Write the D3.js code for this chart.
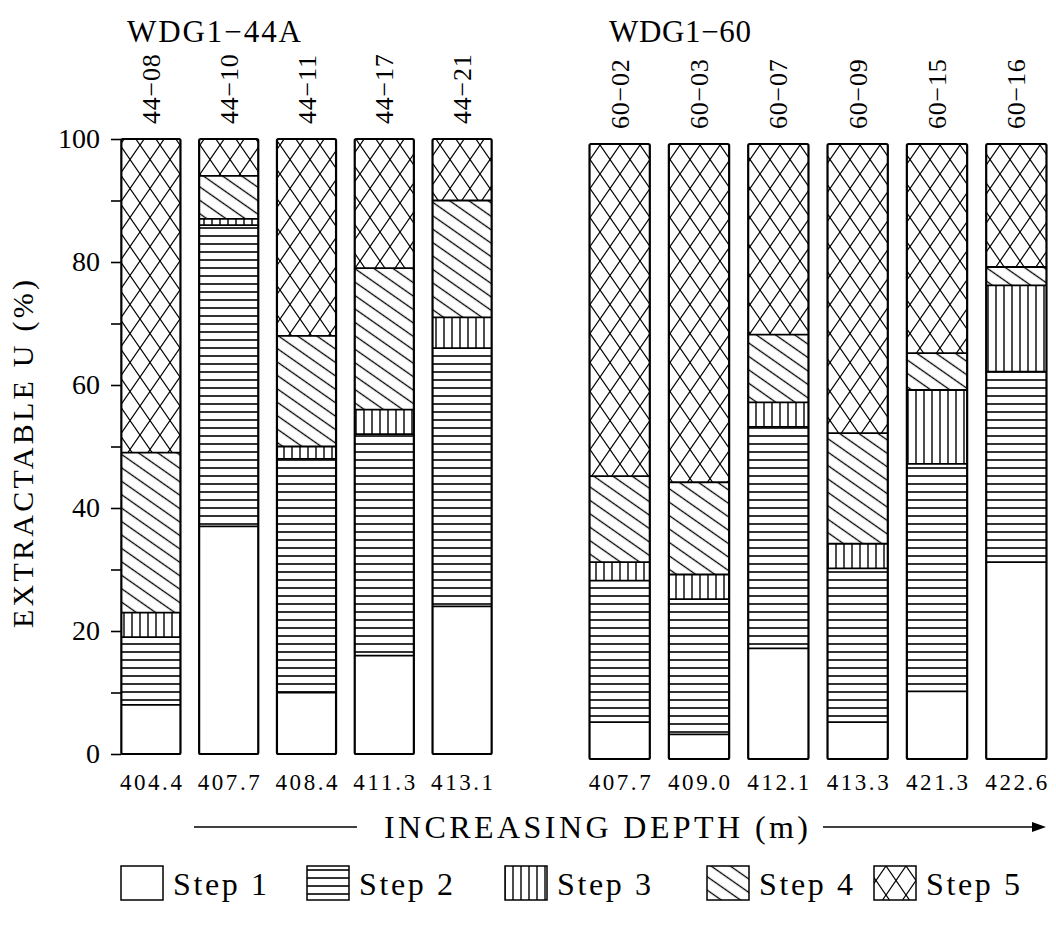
<!DOCTYPE html>
<html>
<head>
<meta charset="utf-8">
<script src="https://cdn.jsdelivr.net/npm/d3@7"></script>
<style>
  html, body { margin: 0; padding: 0; background: #fff; }
  svg { display: block; }
  text { font-family: "Liberation Serif", "Times New Roman", serif; fill: #000; }
</style>
</head>
<body>
<svg id="chart" width="1056" height="936"></svg>
<script>
// ---------------- data ----------------
const steps = ["Step 1", "Step 2", "Step 3", "Step 4", "Step 5"];

const groupA = "WDG1\u221244A";
const samplesA = ["44\u221208", "44\u221210", "44\u221211", "44\u221217", "44\u221221"];
const depthsA = ["404.4", "407.7", "408.4", "411.3", "413.1"];
const step1A = [8, 37, 10, 16, 24];
const step2A = [11, 49, 38, 36, 42];
const step3A = [4, 1, 2, 4, 5];
const step4A = [26, 7, 18, 23, 19];
const step5A = [51, 6, 32, 21, 10];

const groupB = "WDG1\u221260";
const samplesB = ["60\u221202", "60\u221203", "60\u221207", "60\u221209", "60\u221215", "60\u221216"];
const depthsB = ["407.7", "409.0", "412.1", "413.3", "421.3", "422.6"];
const step1B = [6, 4, 18, 6, 11, 32];
const step2B = [23, 22, 36, 25, 37, 31];
const step3B = [3, 4, 4, 4, 12, 14];
const step4B = [14, 15, 11, 18, 6, 3];
const step5B = [54, 55, 31, 47, 34, 20];

const yTicks = [0, 10, 20, 30, 40, 50, 60, 70, 80, 90, 100];
const yTitle = "EXTRACTABLE U (%)";
const xTitle = "INCREASING DEPTH (m)";

// ---------------- drawing ----------------
const svg = d3.select("#chart");
const defs = svg.append("defs");

// hatch patterns
const pat2 = defs.append("pattern").attr("id", "p2").attr("patternUnits", "userSpaceOnUse")
  .attr("width", 10).attr("height", 8);
pat2.append("rect").attr("width", 10).attr("height", 8).attr("fill", "#fff");
pat2.append("line").attr("x1", 0).attr("x2", 10).attr("y1", 4).attr("y2", 4)
  .attr("stroke", "#000").attr("stroke-width", 1.6);

const pat3 = defs.append("pattern").attr("id", "p3").attr("patternUnits", "userSpaceOnUse")
  .attr("width", 8).attr("height", 10);
pat3.append("rect").attr("width", 8).attr("height", 10).attr("fill", "#fff");
pat3.append("line").attr("y1", 0).attr("y2", 10).attr("x1", 4).attr("x2", 4)
  .attr("stroke", "#000").attr("stroke-width", 1.4);

const pat4 = defs.append("pattern").attr("id", "p4").attr("patternUnits", "userSpaceOnUse")
  .attr("width", 20).attr("height", 11).attr("patternTransform", "rotate(35)");
pat4.append("rect").attr("width", 20).attr("height", 11).attr("fill", "#fff");
pat4.append("line").attr("x1", 0).attr("x2", 20).attr("y1", 5.5).attr("y2", 5.5)
  .attr("stroke", "#000").attr("stroke-width", 1.3);

const pat5 = defs.append("pattern").attr("id", "p5").attr("patternUnits", "userSpaceOnUse")
  .attr("width", 20).attr("height", 29);
pat5.append("rect").attr("width", 20).attr("height", 29).attr("fill", "#fff");
pat5.append("line").attr("x1", -2).attr("y1", -2.9).attr("x2", 22).attr("y2", 31.9)
  .attr("stroke", "#000").attr("stroke-width", 1.2);
pat5.append("line").attr("x1", 22).attr("y1", -2.9).attr("x2", -2).attr("y2", 31.9)
  .attr("stroke", "#000").attr("stroke-width", 1.2);

const fills = ["#fff", "url(#p2)", "url(#p3)", "url(#p4)", "url(#p5)"];
const color = d3.scaleOrdinal().domain(steps).range(fills);

function buildRows(samples, s1, s2, s3, s4, s5) {
  return samples.map((s, i) => ({
    sample: s, "Step 1": s1[i], "Step 2": s2[i], "Step 3": s3[i], "Step 4": s4[i], "Step 5": s5[i]
  }));
}
const rowsA = buildRows(samplesA, step1A, step2A, step3A, step4A, step5A);
const rowsB = buildRows(samplesB, step1B, step2B, step3B, step4B, step5B);

const stack = d3.stack().keys(steps);

const xA = d3.scaleBand().domain(samplesA).range([112, 501]).paddingInner(0.24).paddingOuter(0.12);
const xB = d3.scaleBand().domain(samplesB).range([580, 1056]).paddingInner(0.24).paddingOuter(0.12);
const yA = d3.scaleLinear().domain([0, 100]).range([754, 139]);
const yB = d3.scaleLinear().domain([0, 100]).range([759, 144]);

function drawGroup(rows, depths, x, y, title, titleX, titleLen) {
  const g = svg.append("g");
  const series = stack(rows);
  // segments
  g.selectAll("g.seg").data(series).join("g").attr("class", "seg")
    .attr("fill", d => color(d.key))
    .selectAll("rect").data(d => d).join("rect")
    .attr("x", d => x(d.data.sample))
    .attr("width", x.bandwidth())
    .attr("y", d => y(d[1]))
    .attr("height", d => y(d[0]) - y(d[1]));
  // boundaries between segments
  series.slice(0, 4).forEach(s => {
    g.selectAll(null).data(s).join("line")
      .attr("x1", d => x(d.data.sample)).attr("x2", d => x(d.data.sample) + x.bandwidth())
      .attr("y1", d => y(d[1])).attr("y2", d => y(d[1]))
      .attr("stroke", "#000").attr("stroke-width", 1.8);
  });
  // outline
  g.selectAll("rect.outline").data(rows).join("rect").attr("class", "outline")
    .attr("x", d => x(d.sample)).attr("width", x.bandwidth())
    .attr("y", y(100)).attr("height", y(0) - y(100)).attr("rx", 1.5)
    .attr("fill", "none").attr("stroke", "#000").attr("stroke-width", 2.2);
  // sample labels (rotated)
  g.selectAll("text.samp").data(rows).join("text").attr("class", "samp")
    .attr("transform", d => `translate(${x(d.sample) + x.bandwidth() / 2 + 9},${y(100) - 15}) rotate(-90)`)
    .attr("font-size", 26).attr("letter-spacing", 0.8)
    .text(d => d.sample);
  // depth labels
  g.selectAll("text.depth").data(depths).join("text").attr("class", "depth")
    .attr("x", (d, i) => x(rows[i].sample) + x.bandwidth() / 2)
    .attr("y", 790)
    .attr("text-anchor", "middle")
    .attr("font-size", 23)
    .attr("textLength", 62).attr("lengthAdjust", "spacing")
    .text(d => d);
  // group title
  g.append("text").attr("x", titleX).attr("y", 42)
    .attr("font-size", 31).attr("textLength", titleLen).attr("lengthAdjust", "spacing")
    .text(title);
}

drawGroup(rowsA, depthsA, xA, yA, groupA, 127, 174);
drawGroup(rowsB, depthsB, xB, yB, groupB, 609, 142);

// y axis
const axis = svg.append("g").attr("transform", "translate(121,0)")
  .call(d3.axisLeft(yA).tickValues(yTicks).tickSize(10).tickPadding(11)
    .tickFormat(d => d % 20 === 0 ? d : ""));
axis.select(".domain").remove();
axis.selectAll(".tick line").attr("stroke", "#000").attr("stroke-width", 1.6);
axis.selectAll(".tick text").attr("font-size", 28).attr("font-family", "Liberation Serif");

// y title
svg.append("text")
  .attr("transform", "translate(33,628) rotate(-90)")
  .attr("font-size", 30).attr("textLength", 348).attr("lengthAdjust", "spacing")
  .text(yTitle);

// x title with arrow
const xt = svg.append("g");
xt.append("text").attr("x", 384).attr("y", 838).attr("font-size", 32)
  .attr("textLength", 424).attr("lengthAdjust", "spacing").text(xTitle);
xt.append("line").attr("x1", 194).attr("x2", 357).attr("y1", 827).attr("y2", 827)
  .attr("stroke", "#000").attr("stroke-width", 1.6);
xt.append("line").attr("x1", 823).attr("x2", 1034).attr("y1", 827).attr("y2", 827)
  .attr("stroke", "#000").attr("stroke-width", 1.6);
xt.append("path").attr("d", "M1046,827 L1032,822 L1032,832 Z").attr("fill", "#000");

// legend
const legText = [173, 359, 557, 759, 926];
const leg = svg.append("g").selectAll("g").data(steps).join("g")
  .attr("transform", (d, i) => `translate(${legText[i]},866)`);
leg.append("rect").attr("x", -52).attr("width", 42).attr("height", 34)
  .attr("fill", d => color(d)).attr("stroke", "#000").attr("stroke-width", 1.5);
leg.append("text").attr("x", 0).attr("y", 29).attr("font-size", 32)
  .attr("textLength", 94).attr("lengthAdjust", "spacing")
  .text(d => d);
</script>
</body>
</html>
